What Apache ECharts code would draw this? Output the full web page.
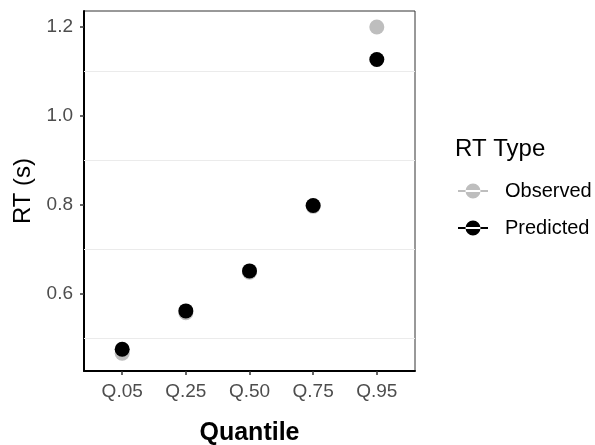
<!DOCTYPE html>
<html>
<head>
<meta charset="utf-8">
<script src="https://cdn.jsdelivr.net/npm/echarts@6/dist/echarts.min.js"></script>
<style>
  html, body { margin: 0; padding: 0; background: #fff; }
  #chart { width: 595px; height: 445px; }
</style>
</head>
<body>
<div id="chart"></div>
<script>
const quantiles = ['Q.05', 'Q.25', 'Q.50', 'Q.75', 'Q.95']
const observed = [0.467, 0.558, 0.649, 0.797, 1.200]
const predicted = [0.476, 0.562, 0.652, 0.799, 1.127]
const yTicks = [0.6, 0.8, 1.0, 1.2]
const yGrid = [0.5, 0.7, 0.9, 1.1]

const font = 'Liberation Sans, Arial, sans-serif'
const legendIcon = 'path://M0,7h30v2h-30z M7.5,8a7.5,7.5 0 1,0 15,0a7.5,7.5 0 1,0 -15,0z'

const chart = echarts.init(document.getElementById('chart'))

const toPoints = arr => arr.map((v, i) => [i, v])

chart.setOption({
  animation: false,
  textStyle: { fontFamily: font },
  title: {
    text: 'RT Type',
    left: 455,
    top: 137,
    padding: 0,
    textStyle: { fontSize: 24, fontWeight: 'normal', color: '#000', fontFamily: font }
  },
  legend: {
    orient: 'vertical',
    left: 458,
    top: 181,
    padding: 0,
    itemWidth: 30,
    itemHeight: 16,
    itemGap: 17,
    data: [
      { name: 'Observed', icon: legendIcon },
      { name: 'Predicted', icon: legendIcon }
    ],
    textStyle: { fontSize: 20, color: '#000', padding: [0, 0, 0, 12], fontFamily: font }
  },
  grid: {
    left: 84,
    right: 180,
    top: 11,
    bottom: 74,
    outerBoundsMode: 'none',
    containLabel: false,
    show: true,
    borderColor: '#333',
    borderWidth: 1
  },
  xAxis: {
    type: 'value',
    min: -0.6,
    max: 4.6,
    name: 'Quantile',
    nameLocation: 'middle',
    nameGap: 50,
    nameTextStyle: { fontSize: 25, fontWeight: 'bold', color: '#000', fontFamily: font },
    axisLine: { show: true, onZero: false, lineStyle: { color: '#000', width: 2 } },
    axisTick: { show: true, length: 4, customValues: [0, 1, 2, 3, 4], lineStyle: { color: '#333', width: 1.5 } },
    axisLabel: {
      customValues: [0, 1, 2, 3, 4],
      formatter: v => quantiles[Math.round(v)],
      fontSize: 19,
      color: '#4d4d4d',
      margin: 11,
      fontFamily: font
    },
    splitLine: { show: false }
  },
  yAxis: {
    type: 'value',
    min: 0.427,
    max: 1.236,
    name: 'RT (s)',
    nameLocation: 'middle',
    nameGap: 48,
    nameTextStyle: { fontSize: 24, color: '#000', fontFamily: font },
    axisLine: { show: true, onZero: false, lineStyle: { color: '#000', width: 2 } },
    axisTick: { show: true, length: 4, customValues: yTicks, lineStyle: { color: '#333', width: 1.5 } },
    axisLabel: {
      customValues: yTicks,
      formatter: v => v.toFixed(1),
      fontSize: 19,
      color: '#4d4d4d',
      margin: 11,
      fontFamily: font
    },
    splitLine: { show: false }
  },
  series: [
    {
      name: 'Observed',
      type: 'scatter',
      symbolSize: 15,
      itemStyle: { color: '#bebebe', opacity: 1 },
      data: toPoints(observed),
      z: 3,
      markLine: {
        silent: true,
        symbol: 'none',
        label: { show: false },
        lineStyle: { color: '#ebebeb', width: 1, type: 'solid' },
        data: yGrid.map(v => ({ yAxis: v }))
      }
    },
    {
      name: 'Predicted',
      type: 'scatter',
      symbolSize: 15,
      itemStyle: { color: '#000', opacity: 1 },
      data: toPoints(predicted),
      z: 4
    }
  ]
})
</script>
</body>
</html>
